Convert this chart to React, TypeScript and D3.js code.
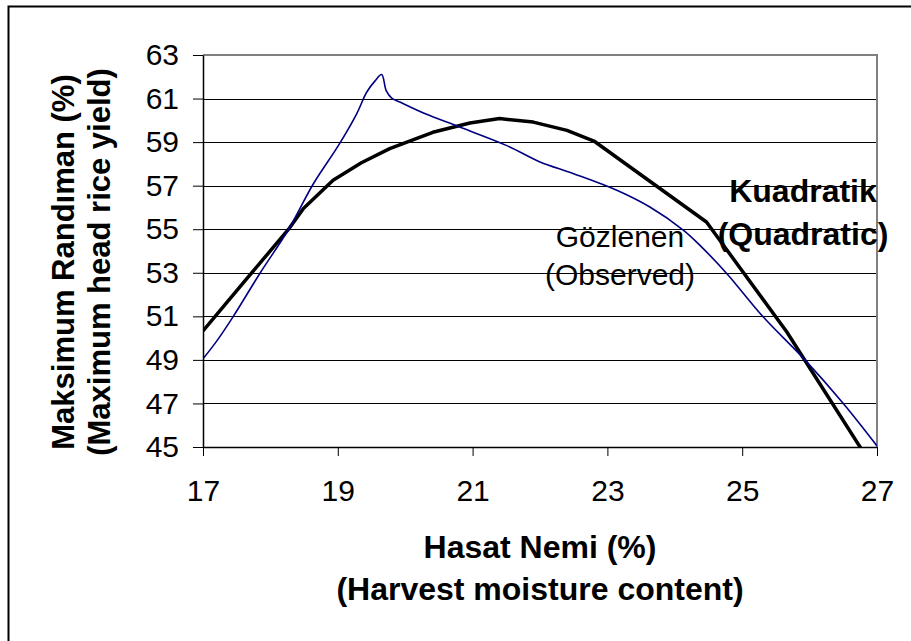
import React, { useEffect, useRef } from 'react';
import * as d3 from 'd3';

// Hasat nemi (%) vs. maksimum randıman (%)
const observedX = [17.0, 17.2, 17.45, 17.85, 18.27, 18.64, 19.01, 19.28, 19.43, 19.55, 19.65, 19.72, 19.8, 19.92, 20.29, 20.81, 21.5, 22.0, 22.49, 23.14, 23.63, 24.13, 24.37, 24.77, 25.31, 25.91, 26.5, 27.0];
const observedY = [49.05, 49.85, 51.0, 53.0, 55.0, 57.1, 58.85, 60.3, 61.3, 61.8, 62.1, 61.35, 61.02, 60.84, 60.31, 59.69, 58.85, 58.09, 57.56, 56.79, 56.02, 54.95, 54.27, 52.97, 50.98, 49.07, 47.0, 45.05];

const quadX = [17.0, 17.6, 18.27, 18.49, 18.93, 19.35, 19.77, 20.41, 20.96, 21.4, 21.9, 22.4, 22.8, 24.47, 25.66, 27.0];
const quadY = [50.33, 52.55, 55.0, 55.95, 57.25, 58.05, 58.7, 59.45, 59.88, 60.08, 59.92, 59.54, 59.05, 55.33, 50.29, 43.78];

const xTicks = [17, 19, 21, 23, 25, 27];
const yTicks = [45, 47, 49, 51, 53, 55, 57, 59, 61, 63];

const W = 911;
const H = 641;
const FONT = '"Liberation Sans", Arial, sans-serif';

const App: React.FC = () => {
  const svgRef = useRef<SVGSVGElement>(null);

  useEffect(() => {
    if (!svgRef.current) return;
    const svg = d3.select(svgRef.current);
    svg.selectAll('*').remove();

    const left = 203, right = 877, top = 55, bottom = 447;
    const x = d3.scaleLinear().domain([17, 27]).range([left, right]);
    const y = d3.scaleLinear().domain([45, 63]).range([bottom, top]);

    // outer frame
    svg.append('rect')
      .attr('x', 8.5).attr('y', 6.5)
      .attr('width', W).attr('height', H)
      .attr('fill', 'white').attr('stroke', '#000').attr('stroke-width', 2);

    svg.append('defs').append('clipPath').attr('id', 'plotClip')
      .append('rect').attr('x', left).attr('y', top).attr('width', right - left).attr('height', bottom - top);

    // gridlines
    svg.append('g').selectAll('line')
      .data(yTicks.filter(t => t !== 45 && t !== 63))
      .join('line')
      .attr('x1', left).attr('x2', right)
      .attr('y1', d => Math.round(y(d)) + 0.5).attr('y2', d => Math.round(y(d)) + 0.5)
      .attr('stroke', '#000').attr('stroke-width', 1);

    // plot border (top, right)
    svg.append('path')
      .attr('d', `M${left},${top} H${right} V${bottom}`)
      .attr('fill', 'none').attr('stroke', '#808080').attr('stroke-width', 2);

    const lineGen = d3.line<[number, number]>()
      .x(d => x(d[0])).y(d => y(d[1]));

    const quad: [number, number][] = quadX.map((v, i) => [v, quadY[i]]);
    const obs: [number, number][] = observedX.map((v, i) => [v, observedY[i]]);

    const plot = svg.append('g').attr('clip-path', 'url(#plotClip)');
    plot.append('path')
      .attr('d', lineGen.curve(d3.curveLinear)(quad) as string)
      .attr('fill', 'none').attr('stroke', '#000').attr('stroke-width', 3.5)
      .attr('stroke-linejoin', 'round');
    plot.append('path')
      .attr('d', lineGen.curve(d3.curveCatmullRom.alpha(0.5))(obs) as string)
      .attr('fill', 'none').attr('stroke', '#000080').attr('stroke-width', 1.6);

    // axes
    const yAxis = d3.axisLeft(y).tickValues(yTicks).tickSize(10).tickSizeOuter(0).tickPadding(14);
    const gy = svg.append('g').attr('transform', `translate(${left},0)`).call(yAxis);
    const xAxis = d3.axisBottom(x).tickValues(xTicks).tickSize(9).tickSizeOuter(0).tickPadding(24);
    const gx = svg.append('g').attr('transform', `translate(0,${bottom})`).call(xAxis);
    [gx, gy].forEach(g => {
      g.select('.domain').attr('stroke', '#000').attr('stroke-width', 1.5);
      g.selectAll('.tick line').attr('stroke', '#000');
      g.selectAll('.tick text').attr('font-family', FONT).attr('font-size', 30).attr('fill', '#000');
    });

    // axis titles
    const xt = svg.append('text').attr('font-family', FONT).attr('font-size', 32)
      .attr('font-weight', 'bold').attr('text-anchor', 'middle');
    xt.append('tspan').attr('x', (left + right) / 2).attr('y', 558).text('Hasat Nemi (%)');
    xt.append('tspan').attr('x', (left + right) / 2).attr('y', 600).text('(Harvest moisture content)');

    const yt = svg.append('text').attr('font-family', FONT).attr('font-size', 31)
      .attr('font-weight', 'bold').attr('text-anchor', 'middle')
      .attr('transform', 'translate(0,262) rotate(-90)');
    yt.append('tspan').attr('x', 0).attr('y', 74).text('Maksimum Randıman (%)');
    yt.append('tspan').attr('x', 0).attr('y', 110).text('(Maximum head rice yield)');

    // series labels
    const ol = svg.append('text').attr('font-family', FONT).attr('font-size', 30)
      .attr('text-anchor', 'middle');
    ol.append('tspan').attr('x', 620).attr('y', 247).text('Gözlenen');
    ol.append('tspan').attr('x', 620).attr('y', 285).text('(Observed)');

    const ql = svg.append('text').attr('font-family', FONT).attr('font-size', 32)
      .attr('font-weight', 'bold').attr('text-anchor', 'middle');
    ql.append('tspan').attr('x', 803).attr('y', 202).text('Kuadratik');
    ql.append('tspan').attr('x', 803).attr('y', 245).text('(Quadratic)');
  }, []);

  return (
    <svg ref={svgRef} width={W} height={H}
      style={{ position: 'absolute', left: 0, top: 0, background: '#fff' }} />
  );
};

export default App;
